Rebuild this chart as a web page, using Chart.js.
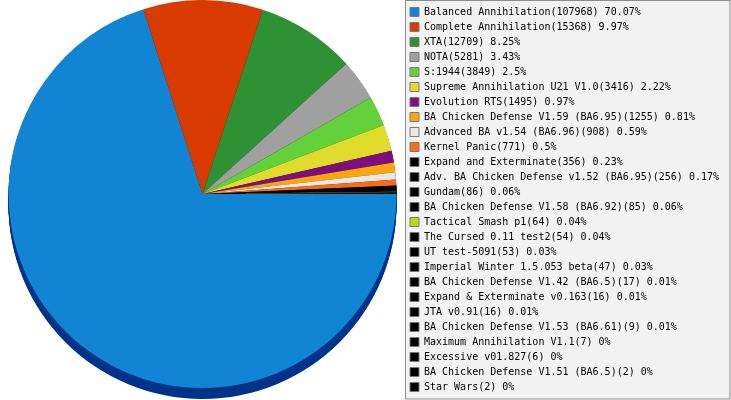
<!DOCTYPE html>
<html lang="en">

<head>
    <meta charset="UTF-8">
    <title>Mod usage</title>
    <style>
        body {
            margin: 0;
            padding: 0;
            background-color: #fff;
        }

        #wrap {
            width: 731px;
            height: 400px;
        }
    </style>
</head>

<body>
    <div id="wrap"><canvas id="modChart" width="731" height="400"></canvas></div>

    <script src="https://cdn.jsdelivr.net/npm/chart.js"></script>

    <script>
        // Mod names, game counts and the percentages printed in the legend
        const modNames = [
            'Balanced Annihilation', 'Complete Annihilation', 'XTA', 'NOTA', 'S:1944',
            'Supreme Annihilation U21 V1.0', 'Evolution RTS', 'BA Chicken Defense V1.59 (BA6.95)',
            'Advanced BA v1.54 (BA6.96)', 'Kernel Panic', 'Expand and Exterminate',
            'Adv. BA Chicken Defense v1.52 (BA6.95)', 'Gundam', 'BA Chicken Defense V1.58 (BA6.92)',
            'Tactical Smash p1', 'The Cursed 0.11 test2', 'UT test-5091', 'Imperial Winter 1.5.053 beta',
            'BA Chicken Defense V1.42 (BA6.5)', 'Expand & Exterminate v0.163', 'JTA v0.91',
            'BA Chicken Defense V1.53 (BA6.61)', 'Maximum Annihilation V1.1', 'Excessive v01.827',
            'BA Chicken Defense V1.51 (BA6.5)', 'Star Wars'
        ];
        const gameCounts = [
            107968, 15368, 12709, 5281, 3849, 3416, 1495, 1255, 908, 771, 356, 256, 86, 85,
            64, 54, 53, 47, 17, 16, 16, 9, 7, 6, 2, 2
        ];
        const percentLabels = [
            '70.07', '9.97', '8.25', '3.43', '2.5', '2.22', '0.97', '0.81', '0.59', '0.5', '0.23',
            '0.17', '0.06', '0.06', '0.04', '0.04', '0.03', '0.03', '0.01', '0.01', '0.01', '0.01',
            '0', '0', '0', '0'
        ];

        const sliceColours = [
            '#1185d4', '#d93a00', '#2e9134', '#a0a0a0', '#62d13a', '#e0dc2b', '#7f0d7f', '#fca60a',
            '#e9e9e9', '#ff6a12', '#000000', '#000000', '#000000', '#000000', '#b5dc10', '#000000',
            '#000000', '#000000', '#000000', '#000000', '#000000', '#000000', '#000000', '#000000',
            '#000000', '#000000'
        ];
        const sideColours = sliceColours.map((c, i) => i === 0 ? '#00338a' : '#222222');
        const depth = 11;

        // draws the darker "thickness" of the pie under each slice
        const pieSide = {
            id: 'pieSide',
            beforeDatasetsDraw(chart) {
                const ctx = chart.ctx;
                const arcs = chart.getDatasetMeta(0).data;
                ctx.save();
                for (let d = depth; d >= 1; d--) {
                    arcs.forEach((arc, i) => {
                        const p = arc.getProps(['x', 'y', 'startAngle', 'endAngle', 'outerRadius'], true);
                        ctx.beginPath();
                        ctx.moveTo(p.x, p.y + d);
                        ctx.arc(p.x, p.y + d, p.outerRadius, p.startAngle, p.endAngle);
                        ctx.closePath();
                        ctx.fillStyle = sideColours[i];
                        ctx.fill();
                    });
                }
                ctx.restore();
            }
        };

        // grey boxed legend using the full canvas height, in one column
        const legendBox = {
            id: 'legendBox',
            beforeLayout(chart) {
                const legend = chart.legend;
                if (legend && !legend._patched) {
                    const fit = legend.fit;
                    legend.fit = function () {
                        const mh = this.maxHeight;
                        this.maxHeight = chart.height;
                        fit.call(this);
                        this.maxHeight = mh;
                        this.height = mh;
                        this.width += 2;
                    };
                    legend._patched = true;
                }
            },
            afterLayout(chart) {
                const legend = chart.legend;
                legend.top = 2;
                legend.bottom = chart.height;
                legend.height = chart.height - 2;
            },
            beforeDraw(chart) {
                const ctx = chart.ctx;
                const left = Math.round(chart.legend.left) + 0.5;
                ctx.save();
                ctx.fillStyle = '#f2f2f2';
                ctx.strokeStyle = '#8c8c8c';
                ctx.lineWidth = 1;
                ctx.fillRect(left, 0.5, chart.width - left - 1, chart.height - 1.5);
                ctx.strokeRect(left, 0.5, chart.width - left - 1, chart.height - 1.5);
                ctx.restore();
            }
        };

        const ctx = document.getElementById('modChart').getContext('2d');
        const modChart = new Chart(ctx, {
            type: 'pie',
            data: {
                labels: modNames,
                datasets: [{
                    data: gameCounts,
                    backgroundColor: sliceColours,
                    borderWidth: 0
                }]
            },
            options: {
                responsive: false,
                animation: false,
                events: [],
                rotation: 90,
                layout: {
                    padding: { bottom: 12 }
                },
                plugins: {
                    tooltip: { enabled: false },
                    legend: {
                        position: 'right',
                        align: 'start',
                        labels: {
                            boxWidth: 9,
                            boxHeight: 9,
                            padding: 5,
                            color: '#000',
                            font: { family: 'DejaVu Sans Mono', size: 10 },
                            generateLabels: (chart) => modNames.map((name, i) => ({
                                text: name + '(' + gameCounts[i] + ') ' + percentLabels[i] + '%',
                                fillStyle: sliceColours[i],
                                strokeStyle: '#7a7a7a',
                                lineWidth: 1,
                                fontColor: '#000',
                                hidden: false,
                                index: i
                            }))
                        }
                    }
                }
            },
            plugins: [legendBox, pieSide]
        });
    </script>
</body>

</html>
